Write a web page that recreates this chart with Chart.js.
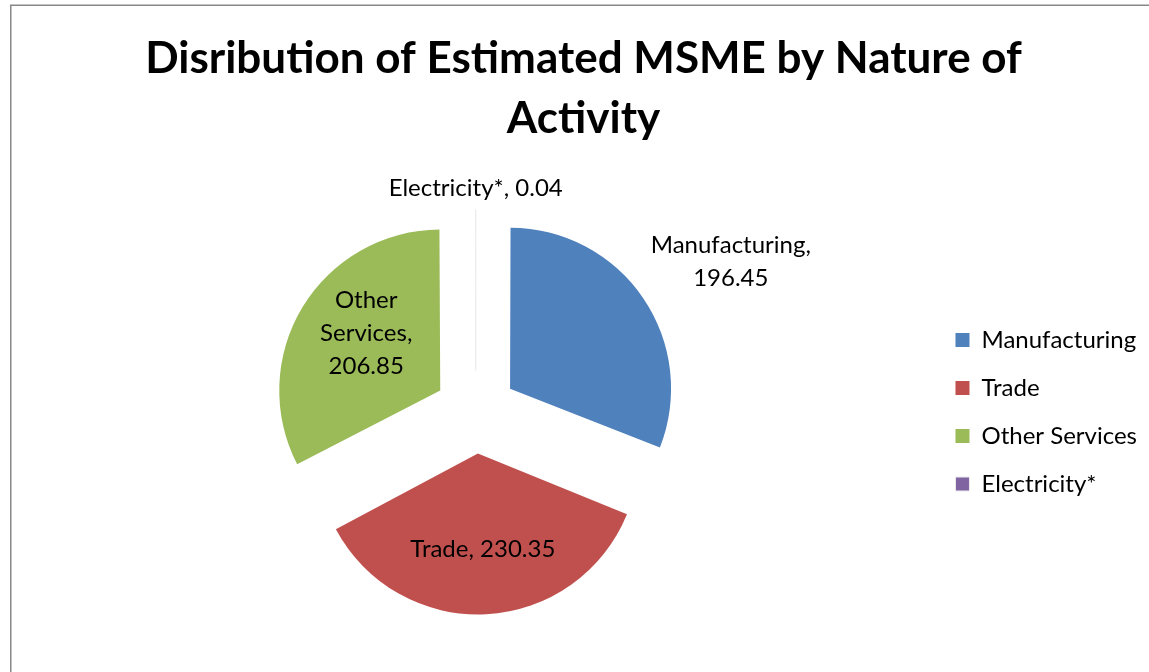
<!doctype html>
<html lang="en">
<head>
    <meta charset="utf-8">
    <title>MSME by Nature of Activity</title>
    <script src="https://cdn.jsdelivr.net/npm/chart.js"></script>
    <style>
        html, body { margin: 0; padding: 0; background: #fff; }
    </style>
</head>
<body>
<canvas id="msme-chart" width="1149" height="672"></canvas>
<script>
    // Estimated MSME by nature of activity
    const activities = ['Manufacturing', 'Trade', 'Other Services', 'Electricity*'];
    const msmeCounts = [196.45, 230.35, 206.85, 0.04];
    const sliceColors = ['#4F81BD', '#C0504D', '#9BBB59', '#8064A2'];
    const titleLines = ['Disribution of Estimated MSME by Nature of', 'Activity'];

    const FONT = 'Lato, Carlito, Calibri, sans-serif';
    const PIE_RADIUS = 161;
    const EXPLODE = 166;      // arc offset option, the slice moves out by offset / 4
    const LABEL_SIZE = 24;
    const LABEL_LINE = 33;

    // data label placement: distance from slice tip (in radii), extra turn (deg), wrap width (px)
    const labelSpots = [
        {dist: 1.58, turn: 4.4, wrap: 180},
        {dist: 0.595, turn: 0, wrap: 400},
        {dist: 0.583, turn: 6.7, wrap: 120},
        {dist: 1.134, turn: 0, wrap: 400}
    ];

    function wrapText(ctx, text, width) {
        const words = text.split(' ');
        const lines = [];
        let line = '';
        words.forEach(w => {
            const next = line ? line + ' ' + w : w;
            if (line && ctx.measureText(next).width > width) {
                lines.push(line);
                line = w;
            } else {
                line = next;
            }
        });
        lines.push(line);
        return lines;
    }

    // grey frame on the top and left edge
    const frame = {
        id: 'frame',
        beforeDraw(chart) {
            const ctx = chart.ctx;
            ctx.save();
            ctx.strokeStyle = '#888';
            ctx.lineWidth = 1.5;
            ctx.beginPath();
            ctx.moveTo(10.75, chart.height);
            ctx.lineTo(10.75, 5.25);
            ctx.lineTo(chart.width, 5.25);
            ctx.stroke();
            ctx.restore();
        }
    };

    // offset arcs get a bigger radius the thinner they are, keep them all the same size
    const evenRadius = {
        id: 'evenRadius',
        beforeDatasetsDraw(chart) {
            chart.getDatasetMeta(0).data.forEach(arc => {
                const fix = 1 - Math.sin(Math.min(Math.PI, arc.circumference));
                arc.outerRadius = PIE_RADIUS - fix * EXPLODE / 4;
            });
        }
    };

    const sliceLabels = {
        id: 'sliceLabels',
        afterDatasetsDraw(chart) {
            const ctx = chart.ctx;
            const arcs = chart.getDatasetMeta(0).data;
            ctx.save();
            ctx.font = LABEL_SIZE + 'px ' + FONT;
            ctx.fillStyle = '#000';
            ctx.textAlign = 'center';
            ctx.textBaseline = 'middle';
            arcs.forEach((arc, i) => {
                const spot = labelSpots[i];
                const mid = (arc.startAngle + arc.endAngle) / 2;
                const tipX = arc.x + Math.cos(mid) * EXPLODE / 4;
                const tipY = arc.y + Math.sin(mid) * EXPLODE / 4;
                const a = mid + spot.turn * Math.PI / 180;
                const x = tipX + Math.cos(a) * spot.dist * PIE_RADIUS;
                const y = tipY + Math.sin(a) * spot.dist * PIE_RADIUS;
                const lines = wrapText(ctx, activities[i] + ', ' + msmeCounts[i], spot.wrap);
                const top = y - (lines.length - 1) * LABEL_LINE / 2;
                lines.forEach((line, k) => ctx.fillText(line, x, top + k * LABEL_LINE));
            });
            ctx.restore();
        }
    };

    new Chart(document.getElementById('msme-chart'), {
        type: 'pie',
        data: {
            labels: activities,
            datasets: [{
                data: msmeCounts,
                backgroundColor: sliceColors,
                borderWidth: [0, 0, 0, 1],
                borderColor: '#ececec',
                offset: EXPLODE,
                radius: PIE_RADIUS
            }]
        },
        options: {
            responsive: false,
            animation: false,
            radius: PIE_RADIUS,
            layout: {
                padding: {top: 5, left: 20, right: 2, bottom: 48}
            },
            plugins: {
                title: {
                    display: true,
                    text: titleLines,
                    color: '#000',
                    font: {family: FONT, size: 44, weight: 'bold', lineHeight: '60px'},
                    padding: {top: 24, bottom: 51}
                },
                legend: {
                    position: 'right',
                    fullSize: false,
                    labels: {
                        color: '#000',
                        font: {family: FONT, size: LABEL_SIZE},
                        boxWidth: 14,
                        boxHeight: 14,
                        padding: 24
                    }
                },
                tooltip: {enabled: false}
            }
        },
        plugins: [frame, evenRadius, sliceLabels]
    });
</script>
</body>
</html>
